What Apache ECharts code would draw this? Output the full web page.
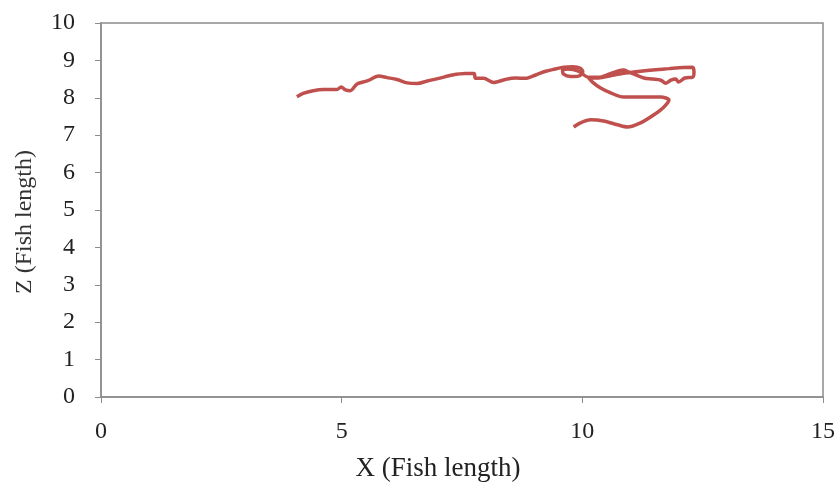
<!DOCTYPE html>
<html>
<head>
<meta charset="utf-8">
<script src="https://cdn.jsdelivr.net/npm/echarts@6/dist/echarts.min.js"></script>
<style>
  html, body { margin: 0; padding: 0; background: #fff; }
  #myChart { width: 838px; height: 487px; }
</style>
</head>
<body>
<div id="myChart"></div>
<script>
    // track of the fish, X and Z in fish lengths
    let trackX = [
        4.07, 4.20, 4.41, 4.62, 4.90, 4.99, 5.08, 5.18, 5.32, 5.53, 5.77, 5.94, 6.15, 6.36, 6.57,
        6.78, 7.02, 7.30, 7.57, 7.75, 7.78, 7.95, 8.16, 8.40, 8.61, 8.82, 9.03, 9.24, 9.44,
        9.61, 9.80, 9.96, 10.01, 9.92, 9.76, 9.61, 9.59, 9.71, 9.92,
        10.13, 10.34, 10.55, 10.73, 10.86, 10.96, 11.11, 11.28, 11.46, 11.63, 11.73, 11.84, 11.94, 12.00, 12.13, 12.29,
        12.32, 12.29,
        12.09, 11.80, 11.52, 11.21, 10.90, 10.59, 10.34, 10.13,
        10.21, 10.38, 10.59, 10.86, 11.28, 11.63, 11.80, 11.69, 11.48, 11.21, 10.94, 10.73, 10.44, 10.17, 9.96, 9.82
    ];
    let trackZ = [
        8.03, 8.12, 8.19, 8.22, 8.22, 8.29, 8.21, 8.19, 8.37, 8.45, 8.58, 8.54, 8.49, 8.40, 8.38,
        8.45, 8.52, 8.61, 8.65, 8.65, 8.52, 8.52, 8.41, 8.49, 8.53, 8.52, 8.61, 8.71, 8.77,
        8.82, 8.83, 8.79, 8.69, 8.58, 8.57, 8.63, 8.74, 8.77, 8.71,
        8.55, 8.55, 8.63, 8.71, 8.74, 8.69, 8.61, 8.53, 8.50, 8.47, 8.39, 8.47, 8.50, 8.42, 8.53, 8.55,
        8.69, 8.82,
        8.81, 8.78, 8.75, 8.71, 8.66, 8.59, 8.53, 8.53,
        8.42, 8.26, 8.13, 8.02, 8.02, 8.02, 7.94, 7.75, 7.54, 7.33, 7.22, 7.28, 7.38, 7.41, 7.33, 7.22
    ];
    let xTicks = [0, 5, 10, 15];
    let zTicks = [0, 1, 2, 3, 4, 5, 6, 7, 8, 9, 10];

    let track = trackX.map((x, i) => [x, trackZ[i]]);
    let axisGrey = '#8c8c8c';

    let option = {
        backgroundColor: '#fff',
        animation: false,
        grid: {
            left: 101,
            right: 15,
            top: 23,
            bottom: 90,
            show: true,
            borderColor: axisGrey,
            borderWidth: 1.5
        },
        xAxis: {
            type: 'value',
            min: xTicks[0],
            max: xTicks[xTicks.length - 1],
            interval: 5,
            name: 'X (Fish length)',
            nameLocation: 'middle',
            nameGap: 58,
            nameTextStyle: {
                fontFamily: 'Liberation Serif',
                fontSize: 27,
                color: '#222',
                padding: [0, 48, 0, 0]
            },
            axisLine: { lineStyle: { color: axisGrey, width: 1.5 } },
            axisTick: { show: true, length: 6, lineStyle: { color: axisGrey } },
            axisLabel: {
                margin: 23,
                fontFamily: 'Liberation Serif',
                fontSize: 24,
                color: '#222'
            },
            splitLine: { show: false }
        },
        yAxis: {
            type: 'value',
            min: zTicks[0],
            max: zTicks[zTicks.length - 1],
            interval: 1,
            name: 'Z (Fish length)',
            nameLocation: 'middle',
            nameGap: 64,
            nameTextStyle: {
                fontFamily: 'Liberation Serif',
                fontSize: 24,
                color: '#333',
                padding: [0, 24, 0, 0]
            },
            axisLine: { show: true, lineStyle: { color: axisGrey, width: 1.5 } },
            axisTick: { show: true, length: 6, lineStyle: { color: axisGrey } },
            axisLabel: {
                margin: 26,
                fontFamily: 'Liberation Serif',
                fontSize: 24,
                color: '#222'
            },
            splitLine: { show: false }
        },
        series: [{
            type: 'line',
            data: track,
            smooth: 0.3,
            showSymbol: false,
            lineStyle: { color: '#c0504d', width: 3.5 }
        }]
    };

    let myChart = echarts.init(document.getElementById('myChart'));
    myChart.setOption(option);
</script>
</body>
</html>
